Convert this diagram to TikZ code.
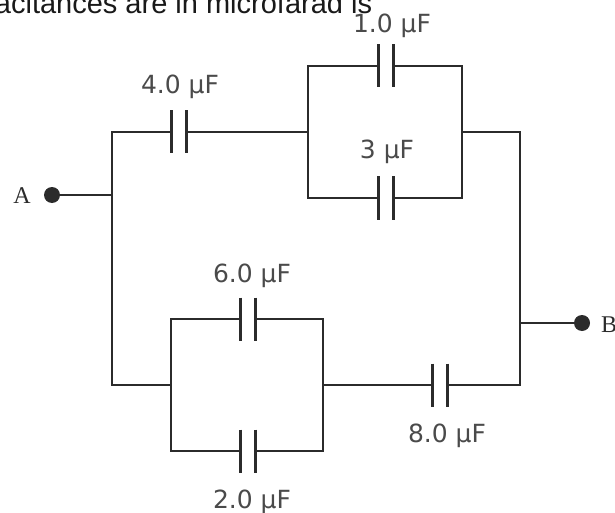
\documentclass[tikz,border=0pt]{standalone}
\usepackage{fontspec}
\setmainfont{Liberation Serif}
\newfontfamily\capfont{DejaVu Sans}
\newfontfamily\headfont{Liberation Sans}
\usepackage{xcolor}
\usetikzlibrary{calc}

\definecolor{wirecol}{HTML}{2B2B2B}
\definecolor{labelcol}{HTML}{4A4A4A}

\begin{document}
\begin{tikzpicture}[x=1pt,y=-1pt,
    wire/.style={draw=wirecol,line width=2.8pt},
    plate/.style={draw=wirecol,line width=3pt},
    caplabel/.style={font={\capfont\fontsize{25}{30}\selectfont},text=labelcol,inner sep=0pt,anchor=base},
    termlabel/.style={font={\fontsize{24}{28}\selectfont},text=wirecol,inner sep=0pt}]
    \useasboundingbox (0,0) rectangle (615,513);
    \clip (0,0) rectangle (615,513);

    % Question text cut off at the top
    \node[font={\headfont\fontsize{29}{34}\selectfont},text=black!90,anchor=base west,inner sep=0pt] (head) at (-52,14) {capacitances are in microfarad is};

    % Capacitors: name / centre x / centre y
    \foreach \n/\x/\y in {c4/179/132, c1/385.5/66, c3/385.5/198, c6/247.5/319, c2/247.5/451, c8/439.5/385} {
        \coordinate (\n-l) at (\x-7.5,\y);
        \coordinate (\n-r) at (\x+7.5,\y);
        \draw[plate] (\x-7.5,\y-21.5) -- (\x-7.5,\y+21.5);
        \draw[plate] (\x+7.5,\y-21.5) -- (\x+7.5,\y+21.5);
    }

    % Junctions and corners
    \coordinate (jA) at (112,195);
    \coordinate (TL) at (112,132);
    \coordinate (BL) at (112,385);
    \coordinate (P1l) at (308,132);
    \coordinate (P1r) at (462,132);
    \coordinate (Q1tl) at (308,66);
    \coordinate (Q1bl) at (308,198);
    \coordinate (Q1tr) at (462,66);
    \coordinate (Q1br) at (462,198);
    \coordinate (TR) at (520,132);
    \coordinate (jB) at (520,323);
    \coordinate (BR) at (520,385);
    \coordinate (P2l) at (171,385);
    \coordinate (P2r) at (323,385);
    \coordinate (Q2tl) at (171,319);
    \coordinate (Q2bl) at (171,451);
    \coordinate (Q2tr) at (323,319);
    \coordinate (Q2br) at (323,451);
    \coordinate (A) at (52,195);
    \coordinate (B) at (582,323);

    % Upper branch
    \draw[wire] (c4-l) -- (TL) -- (BL) -- (P2l);
    \draw[wire] (c4-r) -- (P1l);
    \draw[wire] (c1-l) -- (Q1tl) -- (Q1bl) -- (c3-l);
    \draw[wire] (c1-r) -- (Q1tr) -- (Q1br) -- (c3-r);
    \draw[wire] (P1r) -- (TR) -- (BR) -- (c8-r);

    % Lower branch
    \draw[wire] (c6-l) -- (Q2tl) -- (Q2bl) -- (c2-l);
    \draw[wire] (c6-r) -- (Q2tr) -- (Q2br) -- (c2-r);
    \draw[wire] (c8-l) -- (P2r);

    % Terminals
    \draw[wire] (A) -- (jA);
    \draw[wire] (B) -- (jB);
    \fill[wirecol] (A) circle (8);
    \fill[wirecol] (B) circle (8);
    \node[termlabel,anchor=base] (labA) at (22,203) {A};
    \node[termlabel,anchor=base west] (labB) at (601,332) {B};

    % Values
    \node[caplabel] (v4) at (180,94) {4.0 µF};
    \node[caplabel] (v1) at (392,33) {1.0 µF};
    \node[caplabel] (v3) at (387,159) {3 µF};
    \node[caplabel] (v6) at (252,282) {6.0 µF};
    \node[caplabel] (v2) at (252,508) {2.0 µF};
    \node[caplabel] (v8) at (447,442) {8.0 µF};
\end{tikzpicture}
\end{document}
